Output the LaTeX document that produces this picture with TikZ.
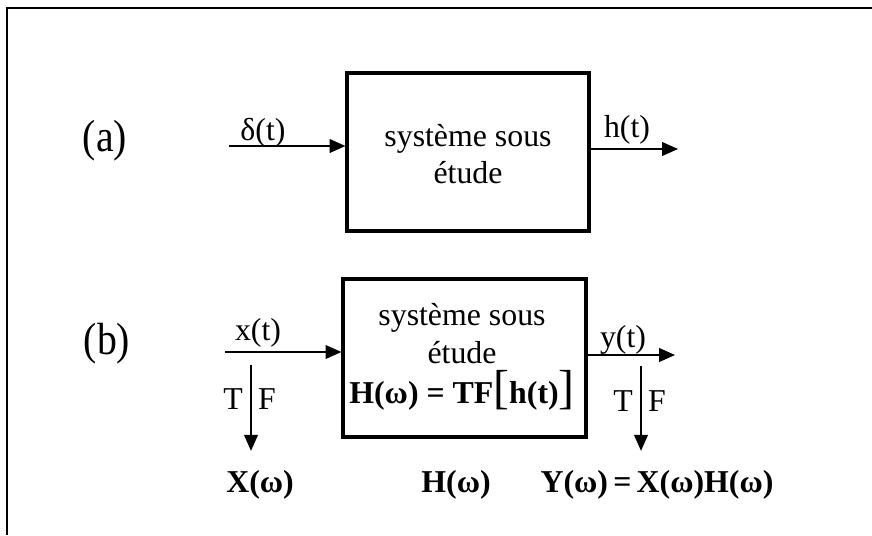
\documentclass[tikz,border=0pt]{standalone}
\usepackage{fontspec}
\setmainfont{Liberation Serif}
\newfontfamily\partfont{Liberation Serif}[FakeStretch=0.88]
\usetikzlibrary{arrows.meta, positioning}

\newcommand{\bigbr}[1]{{\mdseries\fontsize{18}{18}\selectfont #1}}

\begin{document}
\begin{tikzpicture}[x=0.377pt, y=-0.377pt,
    sysbox/.style={rectangle, draw, line width=1.2pt, minimum width=91.6pt,
                   minimum height=59.6pt, inner sep=0pt},
    sig/.style={-{Triangle[length=6pt, width=5.2pt]}, line width=0.5pt},
    lbl/.style={font=\fontsize{12}{14.2}\selectfont, inner sep=0pt, anchor=base},
    tf/.style={font=\bfseries\fontsize{12}{14}\selectfont, inner sep=0pt, anchor=base},
    part/.style={font=\partfont\fontsize{17}{20}\selectfont, inner sep=0pt}
]
    \useasboundingbox (0,0) rectangle (872,535);
    % frame
    \draw[line width=0.8pt] (7,535) -- (7,8) -- (872,8);

    % (a) impulse response
    \node[part] (parta) at (105,141) {(a)};
    \node[sysbox, minimum width=91.2pt] (sysa) at (468,152) {};
    \node[lbl, anchor=center, align=center] (txta) at (468,154) {système sous\\étude};
    \coordinate (ina) at (229,146);
    \coordinate (outa) at (678,149);
    \draw[sig] (ina) -- (ina -| sysa.west);
    \draw[sig] (sysa.east |- outa) -- (outa);
    \node[lbl] (deltaa) at (263,140) {δ(t)};
    \node[lbl] (ha) at (627,137) {h(t)};

    % (b) frequency domain
    \node[part] (partb) at (107,344) {(b)};
    \node[sysbox] (sysb) at (464.5,358) {};
    \node[lbl, anchor=center, align=center] (txtb) at (462,357)
        {système sous\\étude\\[1pt]\bfseries H(ω) = TF\bigbr{[}h(t)\bigbr{]}};
    \coordinate (inb) at (225,352);
    \coordinate (outb) at (675,355);
    \draw[sig] (inb) -- (inb -| sysb.west);
    \draw[sig] (sysb.east |- outb) -- (outb);
    \node[lbl] (xb) at (258,340) {x(t)};
    \node[lbl] (yb) at (623,347) {y(t)};

    % Fourier transforms
    \node[tf] (Xw) at (260,492) {X(ω)};
    \node[tf] (Hw) at (456,492) {H(ω)};
    \node[tf, anchor=base west] (Yw) at (540,492) {Y(ω)\,=\,X(ω)H(ω)};
    \coordinate (tfx) at (251,365);
    \coordinate (tfy) at (641,366);
    \draw[sig, shorten >=7pt] (tfx) -- (tfx |- Xw.north);
    \draw[sig, shorten >=7pt] (tfy) -- (tfy |- Yw.north);
    \node[lbl] (tx) at (233,409) {T};
    \node[lbl] (fx) at (267,409) {F};
    \node[lbl] (ty) at (623,411) {T};
    \node[lbl] (fy) at (657,411) {F};
\end{tikzpicture}
\end{document}
